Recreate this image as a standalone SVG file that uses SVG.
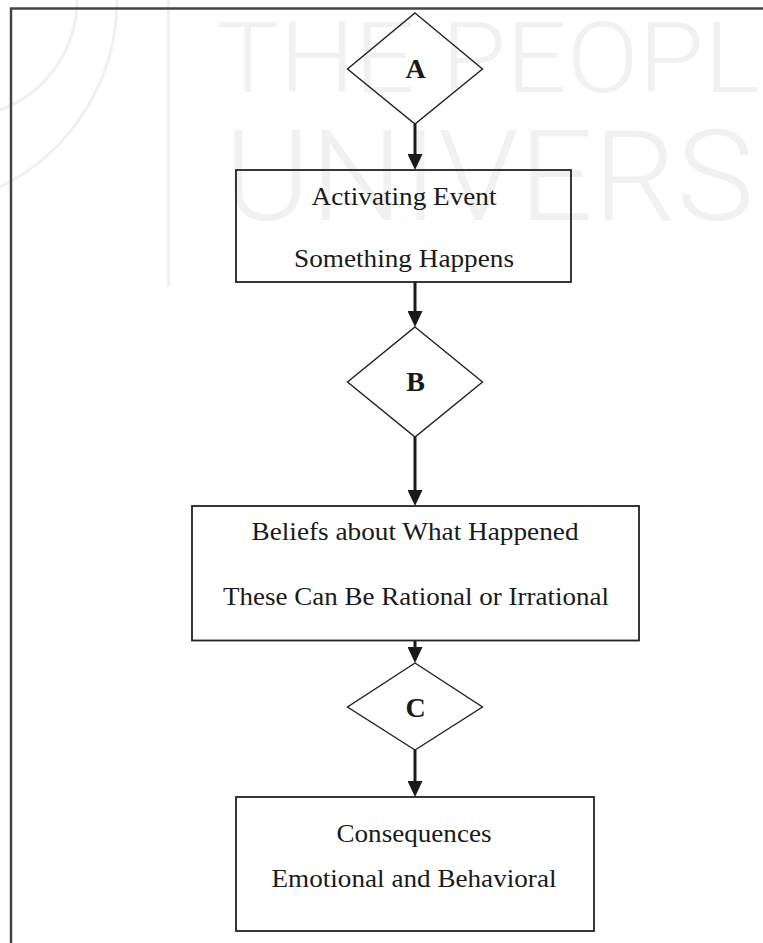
<svg xmlns="http://www.w3.org/2000/svg" width="763" height="943" viewBox="0 0 763 943">
  <defs>
    <marker id="arrowhead" viewBox="0 0 16 15" refX="8" refY="7.5" markerWidth="16" markerHeight="15" markerUnits="userSpaceOnUse" orient="auto">
      <path d="M0,0 L16,7.5 L0,15 Z" fill="#1a1a1a"/>
    </marker>
  </defs>
  <style>
    .wm { fill: #f1f1f1; font-family: Roboto, "Liberation Sans", Arial, sans-serif; font-weight: 300; }
    .wm-line { fill: none; stroke: #f0f0f0; stroke-width: 3; }
    .frame { fill: none; stroke: #444444; stroke-width: 2.5; }
    .box { fill: none; stroke: #222222; stroke-width: 1.8; }
    .diamond { fill: none; stroke: #222222; stroke-width: 1.4; }
    .label { fill: #1a1a1a; font-family: "Liberation Serif", "Times New Roman", serif; font-size: 26px; text-anchor: middle; }
    .key { fill: #1a1a1a; font-family: "Liberation Serif", "Times New Roman", serif; font-size: 28px; font-weight: bold; text-anchor: middle; }
    .edge { fill: none; stroke: #1a1a1a; stroke-width: 3; marker-end: url(#arrowhead); }
  </style>

  <rect width="763" height="943" fill="#ffffff"/>

  <!-- faint background watermark -->
  <g id="watermark">
    <path class="wm-line" d="M117,0 A208,208 0 0 1 0,187"/>
    <path class="wm-line" d="M77,0 A117,117 0 0 1 0,110"/>
    <line class="wm-line" x1="168.5" y1="0" x2="168.5" y2="287"/>
    <text class="wm" x="216" y="92" font-size="98" textLength="544" lengthAdjust="spacingAndGlyphs">THE PEOPL</text>
    <text class="wm" x="224" y="220" font-size="126" textLength="530" lengthAdjust="spacingAndGlyphs">UNIVERS</text>
  </g>

  <!-- page frame -->
  <path class="frame" d="M11,943 V8.5 H763"/>

  <!-- connectors -->
  <g id="connectors">
    <line class="edge" x1="415" y1="124" x2="415" y2="162"/>
    <line class="edge" x1="415" y1="282" x2="415" y2="319"/>
    <line class="edge" x1="415" y1="437" x2="415" y2="498"/>
    <line class="edge" x1="415" y1="640" x2="415" y2="655"/>
    <line class="edge" x1="415" y1="750" x2="415" y2="789"/>
  </g>

  <g id="node-a">
    <polygon class="diamond" points="415,13 482.5,69 415,124 347.5,69"/>
    <text class="key" x="415.5" y="78">A</text>
  </g>

  <g id="node-activating-event">
    <rect class="box" x="236" y="170" width="335" height="112"/>
    <text class="label" x="404" y="205" textLength="185" lengthAdjust="spacingAndGlyphs">Activating Event</text>
    <text class="label" x="404" y="267" textLength="220" lengthAdjust="spacingAndGlyphs">Something Happens</text>
  </g>

  <g id="node-b">
    <polygon class="diamond" points="415,327 482.5,382 415,437 347.5,382"/>
    <text class="key" x="415.5" y="391">B</text>
  </g>

  <g id="node-beliefs">
    <rect class="box" x="192" y="506" width="447" height="134.5"/>
    <text class="label" x="415" y="540" textLength="327" lengthAdjust="spacingAndGlyphs">Beliefs about What Happened</text>
    <text class="label" x="416" y="605" textLength="386" lengthAdjust="spacingAndGlyphs">These Can Be Rational or Irrational</text>
  </g>

  <g id="node-c">
    <polygon class="diamond" points="415,663 482.5,707 415,750 347.5,707"/>
    <text class="key" x="415.5" y="717">C</text>
  </g>

  <g id="node-consequences">
    <rect class="box" x="236" y="797" width="358" height="134"/>
    <text class="label" x="414" y="842" textLength="155" lengthAdjust="spacingAndGlyphs">Consequences</text>
    <text class="label" x="414" y="887" textLength="285" lengthAdjust="spacingAndGlyphs">Emotional and Behavioral</text>
  </g>
</svg>
